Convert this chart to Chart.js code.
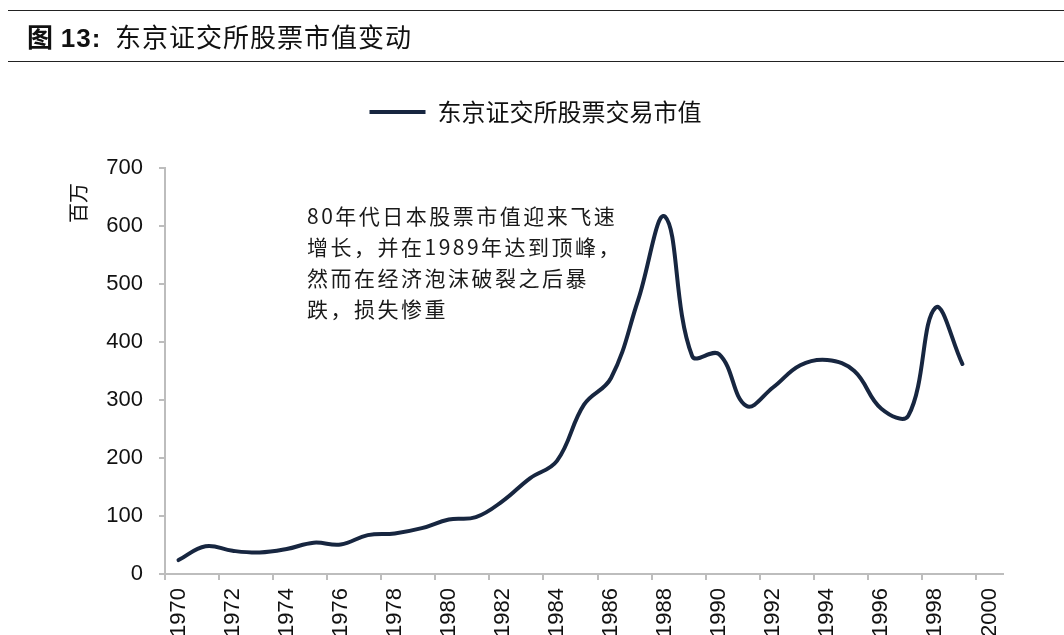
<!DOCTYPE html>
<html>
<head>
<meta charset="utf-8">
<script src="https://cdn.jsdelivr.net/npm/chart.js@4/dist/chart.umd.min.js"></script>
<style>
    html, body { margin: 0; padding: 0; background: #fff; overflow: hidden; }
    #wrap { position: relative; width: 1064px; height: 635px; }
    #chart { position: absolute; left: 0; top: 0; }
    #title {
        position: absolute; left: 8px; right: 0; top: 10px; height: 50px;
        border-top: 1.5px solid #222; border-bottom: 1.5px solid #222;
        font-family: "Noto Sans CJK SC", sans-serif; font-size: 26px; color: #111;
        line-height: 50px; padding-left: 19px; letter-spacing: 1px;
    }
    #title b { font-family: "Liberation Sans", Arial, sans-serif; }
    #unit {
        position: absolute; left: 58px; top: 192px; width: 40px; height: 22px;
        font-family: "Noto Sans CJK SC", sans-serif; font-size: 20px; line-height: 22px;
        color: #111; transform: rotate(-90deg); text-align: center;
    }
    #note {
        position: absolute; left: 307px; top: 200px;
        font-family: "Noto Sans CJK SC", serif; font-size: 21px; line-height: 31px;
        letter-spacing: 2.5px; color: #1a1a1a;
    }
</style>
</head>
<body>
<div id="wrap">
    <canvas id="chart" width="1064" height="635"></canvas>
    <div id="title"><span style="font-weight:bold">图</span> <b>13:</b>&nbsp;&nbsp;东京证交所股票市值变动</div>
    <div id="unit">百万</div>
    <div id="note">80年代日本股票市值迎来飞速<br>增长，并在1989年达到顶峰，<br>然而在经济泡沫破裂之后暴<br>跌，损失惨重</div>
</div>
<script>
// years on the category axis (2000 has no value)
const years = ['1970','1971','1972','1973','1974','1975','1976','1977','1978','1979',
    '1980','1981','1982','1983','1984','1985','1986','1987','1988','1989',
    '1990','1991','1992','1993','1994','1995','1996','1997','1998','1999','2000'];
// 东京证交所股票交易市值, 百万
const marketValue = [24, 48, 40, 37, 43, 54, 51, 67, 70, 79,
    94, 98, 126, 165, 195, 292, 338, 472, 616, 376,
    379, 290, 322, 360, 369, 350, 285, 273, 459, 362];
const seriesName = '东京证交所股票交易市值';

const lineColor = '#172640';
const axisColor = '#bdbdbd';

// extra room under the legend, so the plot starts lower
const legendGap = {
    id: 'legendGap',
    beforeInit(chart) {
        const fit = chart.legend.fit;
        chart.legend.fit = function() {
            fit.call(this);
            this.height += 34;
        };
    }
};

const data = {
    labels: years,
    datasets: [{
        label: seriesName,
        data: marketValue,
        borderColor: lineColor,
        backgroundColor: lineColor,
        borderWidth: 4,
        borderCapStyle: 'round',
        pointRadius: 0,
        tension: 0.4,
        pointStyle: 'line'
    }]
};

const config = {
    type: 'line',
    data: data,
    plugins: [legendGap],
    options: {
        responsive: false,
        animation: false,
        layout: { padding: { top: 56, right: 61, left: 68, bottom: 0 } },
        plugins: {
            tooltip: { enabled: false },
            legend: {
                position: 'top',
                labels: {
                    usePointStyle: true,
                    pointStyleWidth: 56,
                    padding: 44,
                    color: '#111',
                    font: { family: '"Noto Sans CJK SC", sans-serif', size: 24 }
                }
            }
        },
        scales: {
            x: {
                offset: true,
                afterFit: (scale) => { scale.height = 61; },
                border: { color: axisColor, width: 2 },
                grid: {
                    offset: true,
                    drawOnChartArea: false,
                    tickLength: 6,
                    lineWidth: 2,
                    color: (ctx) => ctx.index % 2 === 0 ? axisColor : 'rgba(0,0,0,0)'
                },
                ticks: {
                    autoSkip: false,
                    minRotation: 90,
                    maxRotation: 90,
                    padding: 8,
                    color: '#111',
                    font: { family: '"Liberation Sans", Arial, sans-serif', size: 22 },
                    callback: function(v, i) { return i % 2 === 0 ? this.getLabelForValue(v) : ''; }
                }
            },
            y: {
                min: 0,
                max: 700,
                afterFit: (scale) => { scale.width = 97; },
                border: { color: axisColor, width: 2 },
                grid: { drawOnChartArea: false, tickLength: 6, lineWidth: 2, color: axisColor },
                ticks: {
                    stepSize: 100,
                    padding: 16,
                    color: '#111',
                    font: { family: '"Liberation Sans", Arial, sans-serif', size: 22 }
                }
            }
        }
    }
};

let ctx = document.getElementById('chart').getContext('2d');
new Chart(ctx, config);
</script>
</body>
</html>
